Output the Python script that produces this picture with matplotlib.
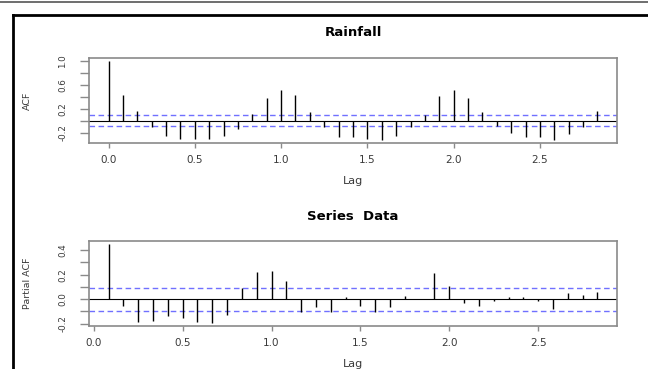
import matplotlib
matplotlib.use("Agg")
import matplotlib.pyplot as plt
from matplotlib.lines import Line2D
import numpy as np

plt.rcParams["font.family"] = ["DejaVu Sans"]

# monthly series -> lags are in years
frequency = 12

# autocorrelation, lags 0..34
acf_vals = [1.00, 0.44, 0.17, -0.10, -0.25, -0.31, -0.31, -0.30, -0.25, -0.14,
            0.12, 0.38, 0.52, 0.44, 0.15, -0.10, -0.27, -0.28, -0.30, -0.32,
            -0.26, -0.10, 0.09, 0.42, 0.51, 0.38, 0.15, -0.09, -0.21, -0.27,
            -0.28, -0.32, -0.23, -0.10, 0.16]

# partial autocorrelation, lags 1..34
pacf_vals = [0.45, -0.06, -0.185, -0.18, -0.135, -0.154, -0.188, -0.194, -0.133,
             0.095, 0.225, 0.23, 0.15, -0.106, -0.066, -0.109, 0.016, -0.053,
             -0.109, -0.066, 0.024, 0.003, 0.218, 0.109, -0.032, -0.053, -0.013,
             0.016, 0.019, -0.019, -0.08, 0.053, 0.032, 0.058]

# 95% white-noise bound, qnorm(0.975)/sqrt(n)
conf_bound = 0.094

x_ticks = [0.0, 0.5, 1.0, 1.5, 2.0, 2.5]

acf_yticks = [-0.2, 0.0, 0.2, 0.4, 0.6, 0.8, 1.0]
acf_ylabels = ["-0.2", "", "0.2", "", "0.6", "", "1.0"]
pacf_yticks = [-0.2, -0.1, 0.0, 0.1, 0.2, 0.3, 0.4]
pacf_ylabels = ["-0.2", "", "0.0", "", "0.2", "", "0.4"]

acf_lags = np.arange(len(acf_vals)) / frequency
pacf_lags = np.arange(1, len(pacf_vals) + 1) / frequency

W, H = 648, 369
fig = plt.figure(figsize=(W / 100, H / 100), dpi=100)
fig.patch.set_facecolor("white")

AX_GRAY = "#8a8a8a"
TXT_GRAY = "#3a3a3a"


def r_range(lo, hi):
    # R-style 4% padding on each side
    pad = 0.04 * (hi - lo)
    return lo - pad, hi + pad


def draw_panel(ax, lags, vals, yticks, ylabels, title, ylabel):
    ax.vlines(lags, 0, vals, color="black", lw=1.0, zorder=3)
    ax.axhline(0, color="black", lw=0.8, zorder=2)
    for c in (conf_bound, -conf_bound):
        ax.axhline(c, color="#7070ff", lw=1.0, linestyle=(0, (4, 2.5)), zorder=2)

    ax.set_xlim(*r_range(min(lags), max(lags)))
    ax.set_ylim(*r_range(min(min(vals), -conf_bound), max(max(vals), conf_bound)))

    ax.set_xticks(x_ticks)
    ax.set_xticklabels([f"{t:.1f}" for t in x_ticks], fontsize=7.5, color=TXT_GRAY)
    ax.set_yticks(yticks)
    ax.set_yticklabels(ylabels, fontsize=6.3, color=TXT_GRAY, rotation=90, va="center")

    ax.tick_params(axis="x", length=3.6, width=1.0, color=AX_GRAY, pad=5)
    ax.tick_params(axis="y", length=6.5, width=1.0, color=AX_GRAY, pad=9)
    for sp in ax.spines.values():
        sp.set_color(AX_GRAY)
        sp.set_linewidth(1.2)

    ax.set_xlabel("Lag", fontsize=8, color=TXT_GRAY, va="center")
    ax.xaxis.set_label_coords(0.5, -38 / 85)
    ax.set_ylabel(ylabel, fontsize=6.8, color=TXT_GRAY, va="center")
    ax.yaxis.set_label_coords(-62 / 528, 0.5)

    ax.text(0.5, 1 + 25 / 85, title, transform=ax.transAxes, ha="center",
            va="center", fontsize=9.5, fontweight="bold", color="black")


ax1 = fig.add_axes([89 / W, 1 - 143 / H, 528 / W, 85 / H])
draw_panel(ax1, acf_lags, acf_vals, acf_yticks, acf_ylabels, "Rainfall", "ACF")

ax2 = fig.add_axes([89 / W, 1 - 326 / H, 528 / W, 85 / H])
draw_panel(ax2, pacf_lags, pacf_vals, pacf_yticks, pacf_ylabels,
           "Series  Data", "Partial ACF")

# surrounding page frame
fig.add_artist(Line2D([0, 1], [1 - 1.5 / H] * 2, transform=fig.transFigure,
                      color="#555555", lw=1.2))
fig.add_artist(Line2D([13 / W, 1], [1 - 14.5 / H] * 2, transform=fig.transFigure,
                      color="black", lw=2.0))
fig.add_artist(Line2D([13 / W] * 2, [0, 1 - 14.5 / H], transform=fig.transFigure,
                      color="black", lw=2.0))

fig.savefig("out.png", dpi=100)
